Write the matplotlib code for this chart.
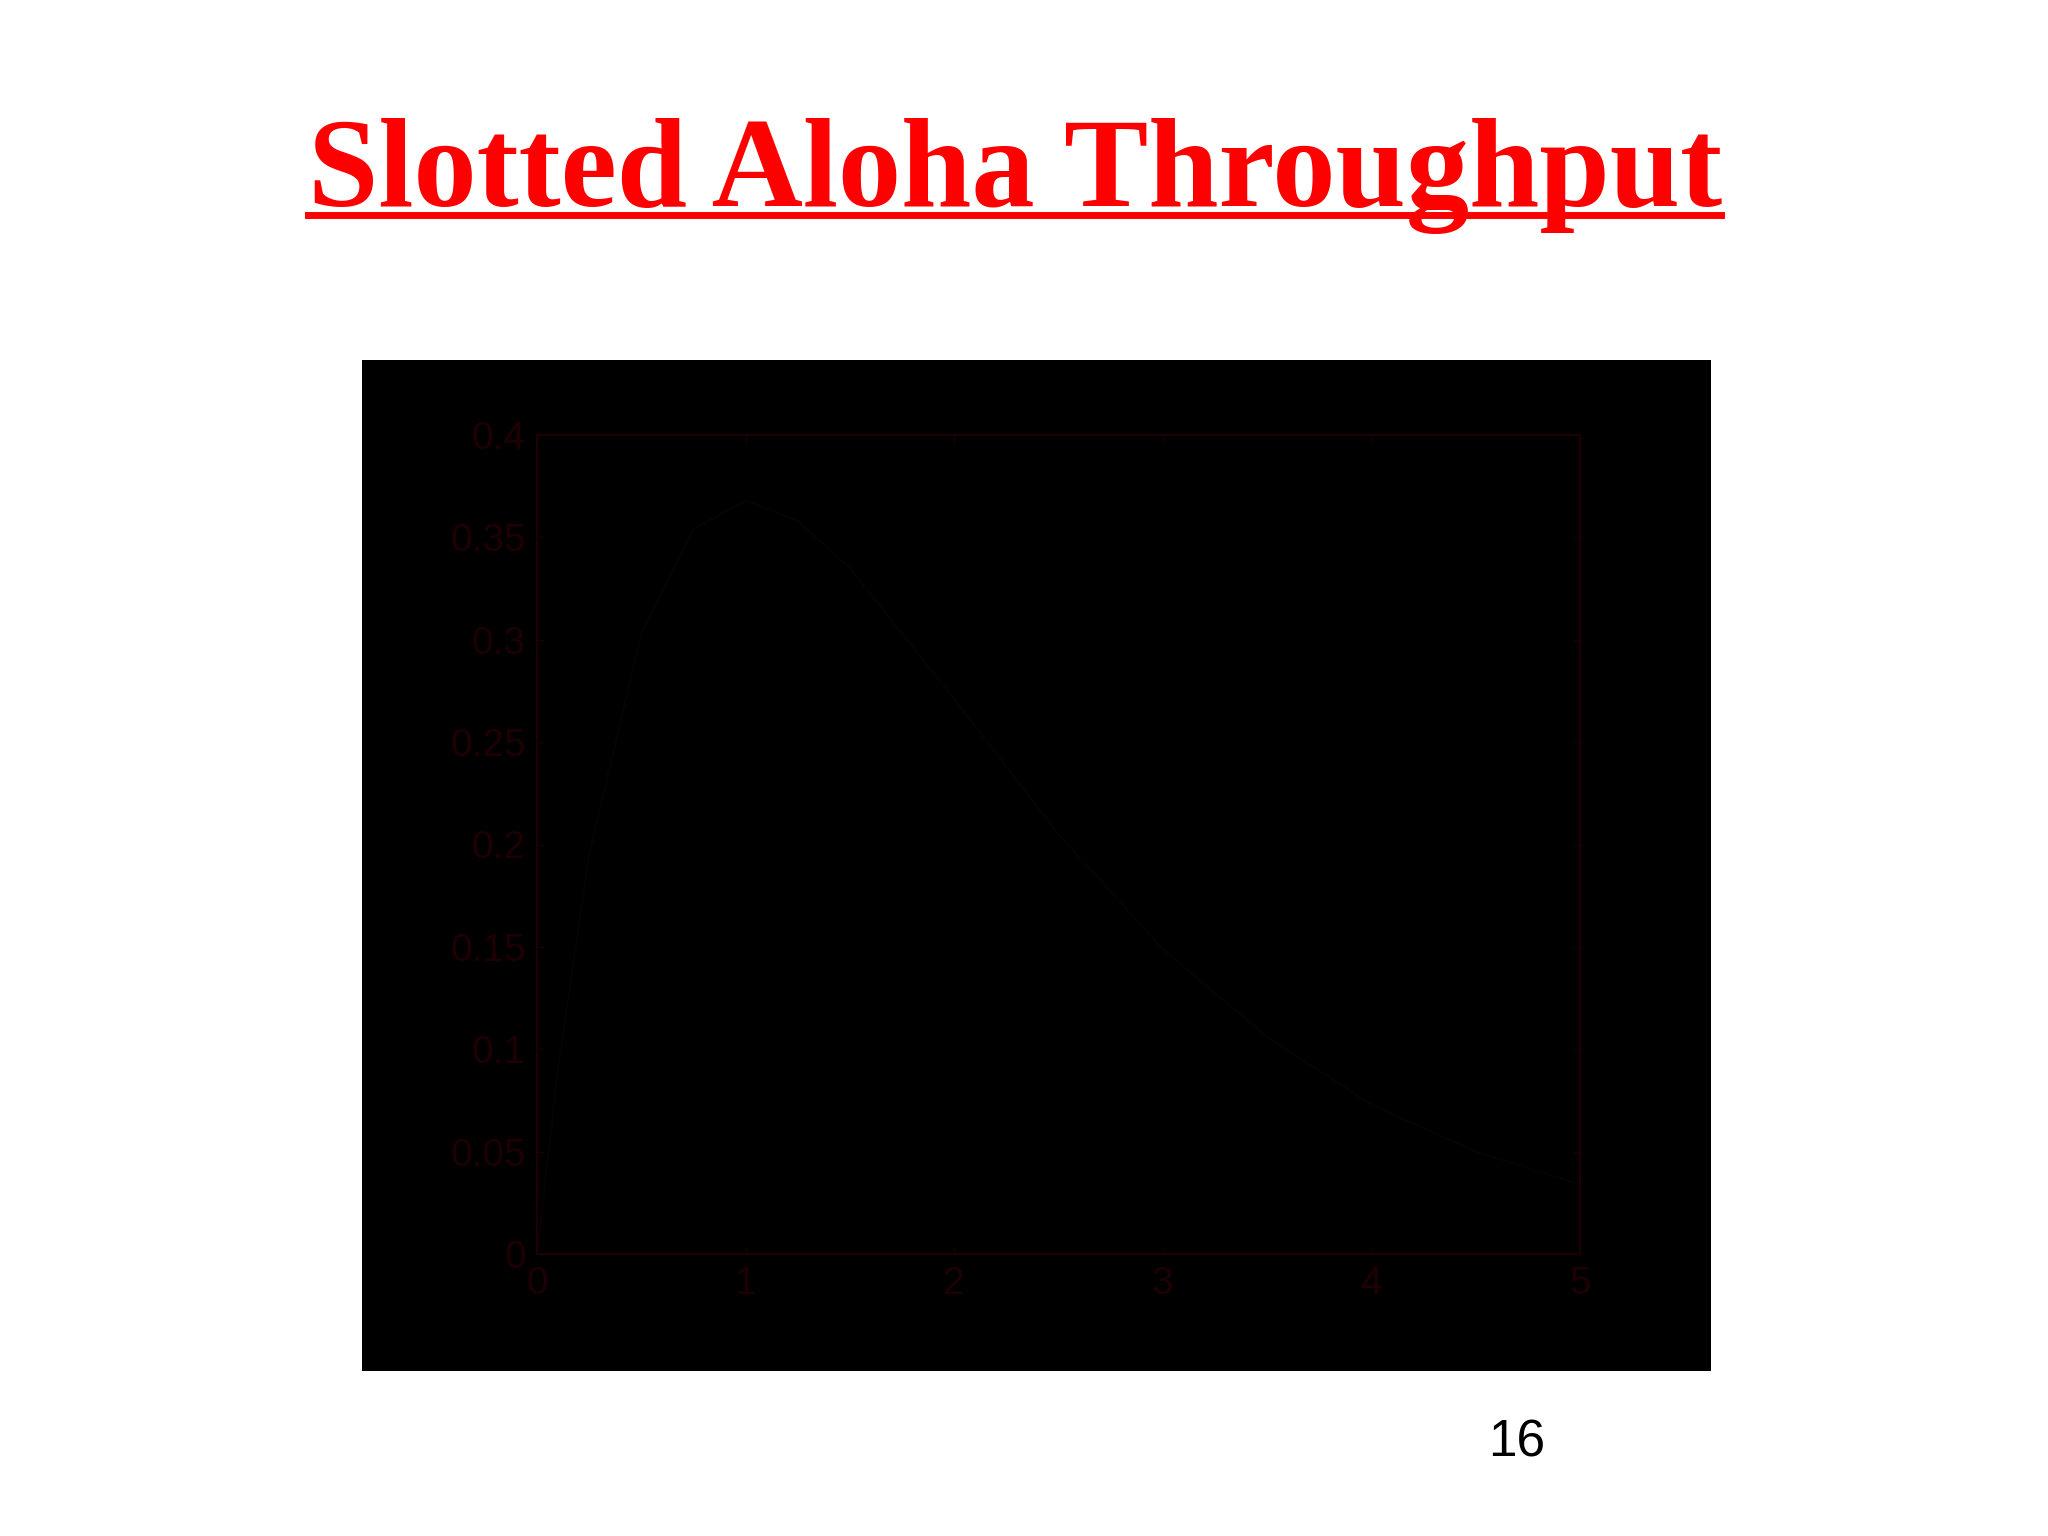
import matplotlib
matplotlib.use("Agg")
import matplotlib.pyplot as plt
from matplotlib.patches import Rectangle
from matplotlib.lines import Line2D

# ── 数据（从图上读出的 G 与吞吐量 S）────────────────────────────
G = [0, 0.1, 0.25, 0.5, 0.75, 1.0, 1.25, 1.5, 2.0, 2.5, 3.0, 3.5, 4.0, 4.5, 5.0]
S = [0, 0.090, 0.195, 0.303, 0.354, 0.368, 0.358, 0.335, 0.271, 0.205,
     0.149, 0.106, 0.073, 0.050, 0.034]
x_ticks = [0, 1, 2, 3, 4, 5]
y_ticks = [0, 0.05, 0.1, 0.15, 0.2, 0.25, 0.3, 0.35, 0.4]
y_labels = ["0", "0.05", "0.1", "0.15", "0.2", "0.25", "0.3", "0.35", "0.4"]
title = "Slotted Aloha Throughput"
page = "16"

W, H = 2048, 1536
AXC = "#1e0004"   # 暗红坐标轴

fig = plt.figure(figsize=(W / 100, H / 100), dpi=100)

def fx(px): return px / W
def fy(py): return 1 - py / H

# 标题 + 下划线
fig.text(fx(1015), fy(206), title, ha="center", va="baseline", color="red",
         fontsize=91, fontweight="bold", family="Liberation Serif")
fig.add_artist(Line2D([fx(308), fx(1721)], [fy(215), fy(215)], color="red", lw=5))

# 页码
fig.text(fx(1517), fy(1443), page, ha="center", va="center", color="black",
         fontsize=37, family="Liberation Sans")

# 黑色图片底板
fig.add_artist(Rectangle((fx(362), fy(1371)), fx(1711) - fx(362), fy(360) - fy(1371),
                         facecolor="black", edgecolor="none", zorder=0))

ax = fig.add_axes([fx(537), fy(1254), fx(1580) - fx(537), fy(435) - fy(1254)])
ax.set_facecolor("black")
ax.plot(G, S, color="#040404", lw=1.5)
ax.set_xlim(0, 5); ax.set_ylim(0, 0.4)
ax.set_xticks(x_ticks); ax.set_yticks(y_ticks)
ax.set_yticklabels(y_labels, family="Liberation Sans")
ax.set_xticklabels([str(v) for v in x_ticks], family="Liberation Sans")
ax.tick_params(direction="in", length=5, width=1, colors=AXC, labelsize=28,
               top=True, right=True, pad=8)
ax.tick_params(axis="x", pad=9)
for sp in ax.spines.values():
    sp.set_color(AXC); sp.set_linewidth(1.5)

fig.savefig("out.png", dpi=100, facecolor="white")
